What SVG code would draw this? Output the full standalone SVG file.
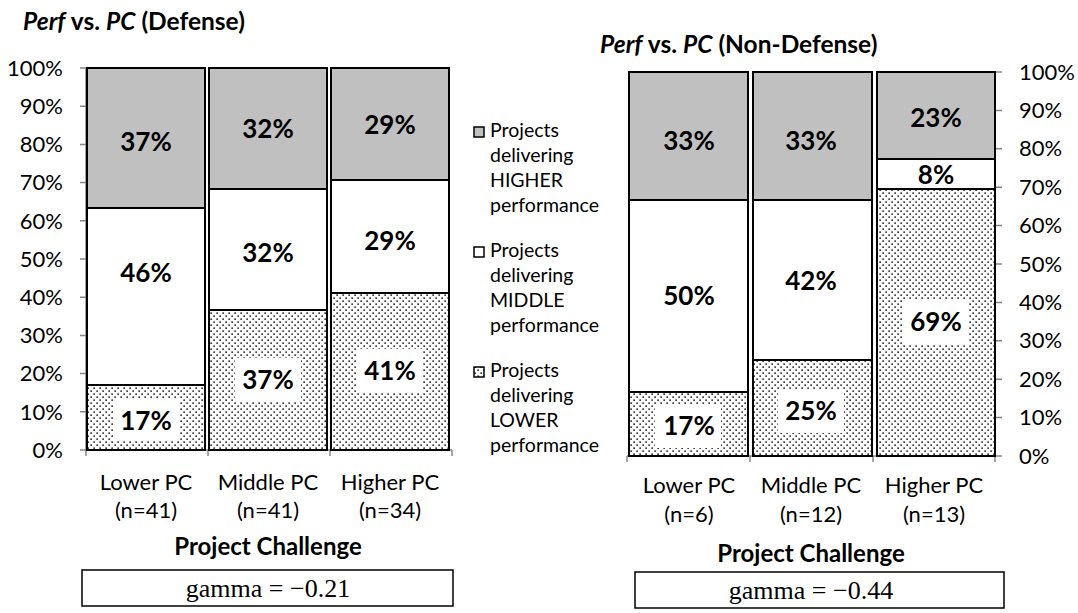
<svg xmlns="http://www.w3.org/2000/svg" width="1078" height="613" viewBox="0 0 1078 613">
<defs>
<pattern id="dots" width="6" height="6" patternUnits="userSpaceOnUse">
<rect width="6" height="6" fill="#fff"/>
<rect x="0.3" y="0.3" width="1.7" height="1.7" fill="#444"/>
<rect x="3.3" y="3.3" width="1.7" height="1.7" fill="#444"/>
</pattern>
<style>
.hi{fill:#c0c0c0;stroke:#000;stroke-width:2}
.mid{fill:#fff;stroke:#000;stroke-width:2}
.lo{fill:url(#dots);stroke:#000;stroke-width:2}
.ax{stroke:#868686;stroke-width:1.5;fill:none}
.t{font-family:Lato,"Liberation Sans",sans-serif;fill:#000}
.tick{font-size:22px}
.val{font-size:26px;font-weight:bold;text-anchor:middle}
.cat{font-size:22px;text-anchor:middle}
.leg{font-size:19.5px}
.title{font-size:24.5px;font-weight:bold}
.pc{font-size:24px;font-weight:bold;text-anchor:middle}
.gm{font-family:"Liberation Serif","Times New Roman",serif;font-size:26px;text-anchor:middle}
.lbg{fill:#fff}
</style>
</defs>

<g id="title-left"><text class="t title" x="23" y="30"><tspan font-style="italic">Perf</tspan> vs. <tspan font-style="italic">PC</tspan> (Defense)</text></g>
<g id="title-right"><text class="t title" x="600" y="53"><tspan font-style="italic">Perf</tspan> vs. <tspan font-style="italic">PC</tspan> (Non-Defense)</text></g>

<g id="axes-left">
<path class="ax" d="M86,68V450H452M80,68H86M80,106.2H86M80,144.4H86M80,182.6H86M80,220.8H86M80,259H86M80,297.2H86M80,335.4H86M80,373.6H86M80,411.8H86M80,450H86M86,450V456M208,450V456M330,450V456M452,450V456"/>
<g class="t tick" text-anchor="end">
<text x="63" y="76">100%</text><text x="63" y="114">90%</text><text x="63" y="152">80%</text><text x="63" y="190">70%</text><text x="63" y="229">60%</text><text x="63" y="267">50%</text><text x="63" y="305">40%</text><text x="63" y="343">30%</text><text x="63" y="381">20%</text><text x="63" y="420">10%</text><text x="63" y="458">0%</text>
</g>
</g>

<g id="bar-def-lower">
<rect class="lo" x="87" y="385" width="118" height="65"/>
<rect class="mid" x="87" y="208" width="118" height="177"/>
<rect class="hi" x="87" y="68" width="118" height="140"/>
<rect class="lbg" x="113" y="398" width="66" height="42"/>
<text class="t val" x="146" y="430">17%</text>
<text class="t val" x="146" y="282">46%</text>
<text class="t val" x="146" y="151">37%</text>
</g>
<g id="bar-def-middle">
<rect class="lo" x="209" y="310" width="118" height="140"/>
<rect class="mid" x="209" y="189" width="118" height="121"/>
<rect class="hi" x="209" y="68" width="118" height="121"/>
<rect class="lbg" x="235" y="358" width="66" height="44"/>
<text class="t val" x="268" y="389">37%</text>
<text class="t val" x="268" y="262">32%</text>
<text class="t val" x="268" y="138">32%</text>
</g>
<g id="bar-def-higher">
<rect class="lo" x="331" y="293" width="118" height="157"/>
<rect class="mid" x="331" y="180" width="118" height="113"/>
<rect class="hi" x="331" y="68" width="118" height="112"/>
<rect class="lbg" x="357" y="349" width="66" height="44"/>
<text class="t val" x="390" y="380">41%</text>
<text class="t val" x="390" y="250">29%</text>
<text class="t val" x="390" y="134">29%</text>
</g>

<g id="cat-left">
<text class="t cat" x="146" y="490">Lower PC</text><text class="t cat" x="146" y="518">(n=41)</text>
<text class="t cat" x="268" y="490">Middle PC</text><text class="t cat" x="268" y="518">(n=41)</text>
<text class="t cat" x="390" y="490">Higher PC</text><text class="t cat" x="390" y="518">(n=34)</text>
<text class="t pc" x="268" y="555">Project Challenge</text>
</g>
<g id="gamma-left">
<rect x="82" y="570" width="371" height="36" fill="#fff" stroke="#000" stroke-width="1.5"/>
<text class="gm" x="268" y="597">gamma = −0.21</text>
</g>

<g id="legend">
<rect x="474" y="127" width="10" height="10" fill="#c0c0c0" stroke="#000" stroke-width="1.5"/>
<rect x="474" y="247" width="10" height="10" fill="#fff" stroke="#000" stroke-width="1.5"/>
<rect x="474" y="367" width="10" height="10" fill="url(#dots)" stroke="#000" stroke-width="1.5"/>
<g class="t leg">
<text x="490" y="137">Projects</text><text x="490" y="162">delivering</text><text x="490" y="187">HIGHER</text><text x="490" y="212">performance</text>
<text x="490" y="257">Projects</text><text x="490" y="282">delivering</text><text x="490" y="307">MIDDLE</text><text x="490" y="332">performance</text>
<text x="490" y="377">Projects</text><text x="490" y="402">delivering</text><text x="490" y="427">LOWER</text><text x="490" y="452">performance</text>
</g>
</g>

<g id="axes-right">
<path class="ax" d="M995,72V456H627M995,72H1002M995,110.4H1002M995,148.8H1002M995,187.2H1002M995,225.6H1002M995,264H1002M995,302.4H1002M995,340.8H1002M995,379.2H1002M995,417.6H1002M995,456H1002M627,456V462M750,456V462M873,456V462M995,456V462"/>
<g class="t tick">
<text x="1019" y="80">100%</text><text x="1019" y="118">90%</text><text x="1019" y="156">80%</text><text x="1019" y="195">70%</text><text x="1019" y="233">60%</text><text x="1019" y="272">50%</text><text x="1019" y="310">40%</text><text x="1019" y="348">30%</text><text x="1019" y="387">20%</text><text x="1019" y="425">10%</text><text x="1019" y="464">0%</text>
</g>
</g>

<g id="bar-nd-lower">
<rect class="lo" x="629" y="392" width="119" height="64"/>
<rect class="mid" x="629" y="200" width="119" height="192"/>
<rect class="hi" x="629" y="72" width="119" height="128"/>
<rect class="lbg" x="655" y="404" width="66" height="44"/>
<text class="t val" x="689" y="435">17%</text>
<text class="t val" x="689" y="305">50%</text>
<text class="t val" x="689" y="150">33%</text>
</g>
<g id="bar-nd-middle">
<rect class="lo" x="753" y="360" width="119" height="96"/>
<rect class="mid" x="753" y="200" width="119" height="160"/>
<rect class="hi" x="753" y="72" width="119" height="128"/>
<rect class="lbg" x="778" y="389" width="66" height="44"/>
<text class="t val" x="811" y="420">25%</text>
<text class="t val" x="811" y="290">42%</text>
<text class="t val" x="811" y="150">33%</text>
</g>
<g id="bar-nd-higher">
<rect class="lo" x="877" y="189" width="118" height="267"/>
<rect class="mid" x="877" y="159" width="118" height="30"/>
<rect class="hi" x="877" y="72" width="118" height="87"/>
<rect class="lbg" x="903" y="300" width="66" height="44"/>
<text class="t val" x="936" y="331">69%</text>
<text class="t val" x="936" y="184">8%</text>
<text class="t val" x="936" y="127">23%</text>
</g>

<g id="cat-right">
<text class="t cat" x="689" y="493">Lower PC</text><text class="t cat" x="689" y="522">(n=6)</text>
<text class="t cat" x="811" y="493">Middle PC</text><text class="t cat" x="811" y="522">(n=12)</text>
<text class="t cat" x="934" y="493">Higher PC</text><text class="t cat" x="934" y="522">(n=13)</text>
<text class="t pc" x="811" y="562">Project Challenge</text>
</g>
<g id="gamma-right">
<rect x="635" y="572" width="369" height="36" fill="#fff" stroke="#000" stroke-width="1.5"/>
<text class="gm" x="811" y="599">gamma = −0.44</text>
</g>
</svg>
